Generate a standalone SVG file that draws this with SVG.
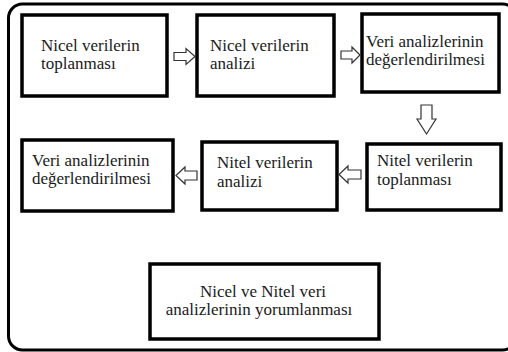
<svg xmlns="http://www.w3.org/2000/svg" width="508" height="352" viewBox="0 0 508 352">
<style>
.frame{fill:none;stroke:#000;stroke-width:3}
.box{fill:#fff;stroke:#000;stroke-width:3.5}
.t{font-family:'Liberation Serif','DejaVu Serif',serif;font-size:17px;fill:#1a1a1a}
.arr{fill:#fff;stroke:#333;stroke-width:1.2;stroke-linejoin:miter}
</style>
<rect x="0" y="0" width="508" height="352" fill="#fff"/>
<rect class="frame" x="8.5" y="4" width="508" height="346" rx="14"/>
<g id="n1"><rect class="box" x="22" y="15" width="145" height="81"/><text class="t" x="41" y="51">Nicel verilerin</text><text class="t" x="41" y="69">toplanması</text></g>
<g id="n2"><rect class="box" x="197" y="15" width="137" height="81"/><text class="t" x="210" y="51">Nicel verilerin</text><text class="t" x="210" y="69">analizi</text></g>
<g id="n3"><rect class="box" x="362" y="14" width="137" height="78"/><text class="t" x="366" y="47">Veri analizlerinin</text><text class="t" x="366" y="65">değerlendirilmesi</text></g>
<g id="n4"><rect class="box" x="367" y="144" width="134" height="66"/><text class="t" x="377" y="166">Nitel verilerin</text><text class="t" x="377" y="185">toplanması</text></g>
<g id="n5"><rect class="box" x="202" y="142" width="135" height="68"/><text class="t" x="217" y="168">Nitel verilerin</text><text class="t" x="217" y="187">analizi</text></g>
<g id="n6"><rect class="box" x="22" y="140" width="151" height="71"/><text class="t" x="32" y="166">Veri analizlerinin</text><text class="t" x="32" y="184">değerlendirilmesi</text></g>
<g id="n7"><rect class="box" x="150" y="264" width="229" height="75"/><text class="t" x="263" y="297" text-anchor="middle">Nicel ve Nitel veri</text><text class="t" x="259" y="315" text-anchor="middle">analizlerinin yorumlanması</text></g>
<g id="connectors">
<path class="arr" d="M174,52.5 H186 V48.5 L195,56.5 L186,64.5 V60.5 H174 Z"/>
<path class="arr" d="M341,51 H352 V47 L360,55 L352,63 V59 H341 Z"/>
<path class="arr" d="M421,105 H432 V119 H436 L426.5,134 L417,119 H421 Z"/>
<path class="arr" d="M361,170 H348 V166 L339,174.5 L348,183 V179 H361 Z"/>
<path class="arr" d="M197,171 H185 V167 L176,175.5 L185,184 V180 H197 Z"/>
</g>
</svg>
